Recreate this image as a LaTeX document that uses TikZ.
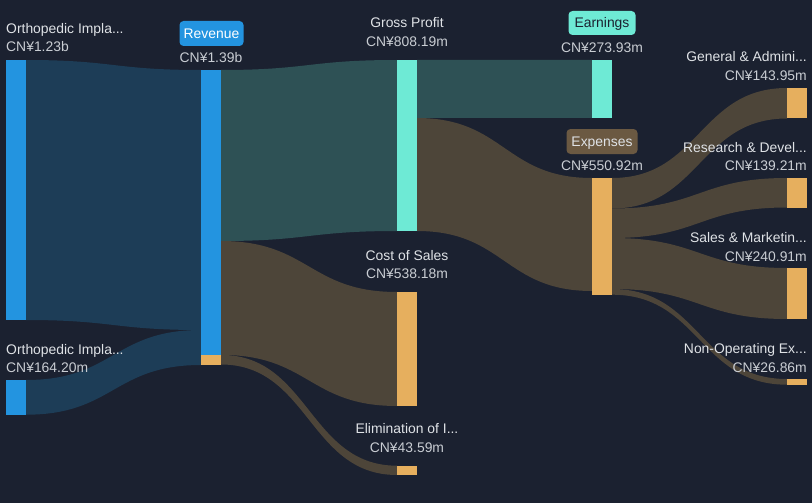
\documentclass[tikz,border=0pt]{standalone}
\usepackage{fontspec}
\setmainfont{Liberation Sans}
\definecolor{bgc}{HTML}{1B2130}
\definecolor{barblue}{HTML}{2394E0}
\definecolor{flowblue}{HTML}{1D3D57}
\definecolor{flowteal}{HTML}{2E5155}
\definecolor{flowbrown}{HTML}{4D4539}
\definecolor{barorange}{HTML}{E6AF5E}
\definecolor{barcyan}{HTML}{6EEAD5}
\definecolor{pillbrown}{HTML}{6B5942}
\definecolor{titlec}{HTML}{DFE2E6}
\definecolor{valc}{HTML}{C9CDD3}
\newcommand\sflow[7]{%
  \fill[#7] (#1,#2) .. controls ({(#1+#4)/2},#2) and ({(#1+#4)/2},#5) .. (#4,#5)
    -- (#4,#6) .. controls ({(#1+#4)/2},#6) and ({(#1+#4)/2},#3) .. (#1,#3) -- cycle;}
\tikzset{
  lbl/.style={inner sep=0pt, font=\fontsize{13.9}{16}\selectfont, text=titlec},
  val/.style={inner sep=0pt, font=\fontsize{13.9}{16}\selectfont, text=valc},
  pilltext/.style={inner sep=0pt, font=\fontsize{13.9}{16}\selectfont, anchor=base},
}
\begin{document}
\begin{tikzpicture}[x=1pt,y=-1pt]
\fill[bgc] (0,0) rectangle (812,503);
\useasboundingbox (0,0) rectangle (812,503);
% flows
\sflow{26}{60}{320}{201}{70}{330}{flowblue}
\sflow{26}{380}{414.7}{201}{330}{365}{flowblue}
\sflow{221}{70}{241}{397}{60}{231}{flowteal}
\sflow{221}{241}{354.9}{397}{292}{406}{flowbrown}
\sflow{221}{354.9}{364.5}{397}{465.7}{475}{flowbrown}
\sflow{417}{60}{118}{592}{60}{118}{flowteal}
\sflow{417}{118}{231}{592}{178}{291}{flowbrown}
\sflow{612}{178}{208.5}{787}{88}{118.5}{flowbrown}
\sflow{612}{208.5}{238}{787}{178}{207.5}{flowbrown}
\sflow{612}{238}{289}{787}{268}{319}{flowbrown}
\sflow{612}{289}{294.7}{787}{379}{384.7}{flowbrown}
% bars
\fill[barblue] (6,60) rectangle (26,320);
\fill[barblue] (6,380) rectangle (26,414.7);
\fill[barblue] (201,70) rectangle (221,355.3);
\fill[barorange] (201,355.3) rectangle (221,364.7);
\fill[barcyan] (397,60) rectangle (417,231);
\fill[barorange] (397,292) rectangle (417,406);
\fill[barorange] (397,465.7) rectangle (417,475);
\fill[barcyan] (592,60) rectangle (612,118);
\fill[barorange] (592,178) rectangle (612,295);
\fill[barorange] (787,88) rectangle (807,118.5);
\fill[barorange] (787,178) rectangle (807,207.5);
\fill[barorange] (787,268) rectangle (807,319);
\fill[barorange] (787,379) rectangle (807,384.7);
% left labels
\node[lbl, anchor=base west] (o1t) at (6,34) {Orthopedic Impla...};
\node[val, anchor=base west] (o1v) at (6,52) {CN¥1.23b};
\node[lbl, anchor=base west] (o2t) at (6,354) {Orthopedic Impla...};
\node[val, anchor=base west] (o2v) at (6,372) {CN¥164.20m};
% revenue
\fill[barblue, rounded corners=4pt] (179.5,21) rectangle (243.5,46);
\node[pilltext, text=white] (revt) at (211.5,38.3) {Revenue};
\node[val, anchor=base] (revv) at (211,63) {CN¥1.39b};
% middle
\node[lbl, anchor=base] (gpt) at (407,28) {Gross Profit};
\node[val, anchor=base] (gpv) at (407,47) {CN¥808.19m};
\node[lbl, anchor=base] (cst) at (407,260) {Cost of Sales};
\node[val, anchor=base] (csv) at (407,278) {CN¥538.18m};
\node[lbl, anchor=base] (elt) at (407,433) {Elimination of I...};
\node[val, anchor=base] (elv) at (407,452) {CN¥43.59m};
% earnings / expenses
\fill[barcyan, rounded corners=4pt] (568.5,11) rectangle (635.5,35);
\node[pilltext, text=bgc] (eart) at (602,27.8) {Earnings};
\node[val, anchor=base] (earv) at (602,53) {CN¥273.93m};
\fill[pillbrown, rounded corners=4pt] (566.5,129) rectangle (637.5,154);
\node[pilltext, text=titlec] (expt) at (602,146.4) {Expenses};
\node[val, anchor=base] (expv) at (602,170) {CN¥550.92m};
% right labels
\node[lbl, anchor=base east] (gat) at (807,62) {General \& Admini...};
\node[val, anchor=base east] (gav) at (807,81) {CN¥143.95m};
\node[lbl, anchor=base east] (rdt) at (807,152) {Research \& Devel...};
\node[val, anchor=base east] (rdv) at (807,170) {CN¥139.21m};
\node[lbl, anchor=base east] (smt) at (807,242) {Sales \& Marketin...};
\node[val, anchor=base east] (smv) at (807,261) {CN¥240.91m};
\node[lbl, anchor=base east] (not) at (807,353) {Non-Operating Ex...};
\node[val, anchor=base east] (nov) at (807,372) {CN¥26.86m};
\end{tikzpicture}
\end{document}
